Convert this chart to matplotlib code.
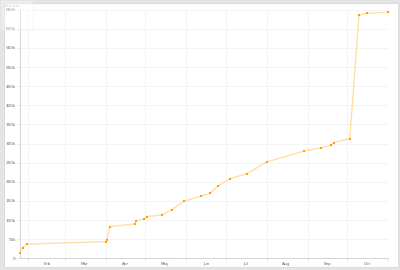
import matplotlib
matplotlib.use("Agg")
import matplotlib.pyplot as plt
import matplotlib.dates as mdates
from matplotlib.patches import Rectangle
import datetime as dt

dates = ["2015-01-26", "2015-01-28", "2015-01-31", "2015-04-01", "2015-04-02",
         "2015-04-04", "2015-04-23", "2015-04-24", "2015-04-30", "2015-05-02",
         "2015-05-14", "2015-05-21", "2015-05-30", "2015-06-12", "2015-06-19",
         "2015-06-25", "2015-07-04", "2015-07-17", "2015-08-01", "2015-08-29",
         "2015-09-11", "2015-09-19", "2015-09-21", "2015-10-03", "2015-10-10",
         "2015-10-16", "2015-11-01"]
values = [13000, 28000, 37000, 43600, 48800, 83000, 90000, 98400, 103000, 109000,
          113700, 127000, 148600, 162800, 169600, 189000, 208000, 221000, 252000,
          280000, 289000, 295600, 302700, 313000, 635000, 641000, 643000]
series_name = "Total size"

x = [dt.datetime.strptime(d, "%Y-%m-%d") for d in dates]

fig = plt.figure(figsize=(4, 2.7), dpi=100)
fig.patch.set_facecolor("#e4e4e4")
fig.patches.append(Rectangle((4/400, 1 - 267/270), 394/400, 264/270,
                             transform=fig.transFigure, facecolor="white",
                             edgecolor="#d8d8d8", linewidth=0.6, zorder=-10))

ax = fig.add_axes([20/400, 1 - 258.3/270, 368/400, (258.3 - 9.7)/270])
ax.patch.set_alpha(0)
ax.plot(x, values, color="#ffc04d", alpha=0.5, linewidth=1.0, zorder=2, clip_on=False)
ax.plot(x, values, linestyle="none", marker="s", markersize=1.9,
        color="#ffa000", markeredgewidth=0, zorder=3, label=series_name, clip_on=False)

ax.set_xlim(x[0], x[-1])
ax.set_ylim(0, 650000)

ax.xaxis.set_major_locator(mdates.MonthLocator())
ax.xaxis.set_major_formatter(plt.NullFormatter())
ax.xaxis.set_minor_locator(mdates.MonthLocator(bymonthday=16))
ax.xaxis.set_minor_formatter(mdates.DateFormatter("%b"))
ax.tick_params(axis="x", which="major", length=2, color="#dddddd", width=0.5)
ax.tick_params(axis="x", which="minor", length=0, labelsize=3, labelcolor="#666666", pad=3)

ax.set_yticks(range(0, 650001, 50000))
ax.set_yticklabels(["0"] + [f"{v//1000}k" for v in range(50000, 650001, 50000)])
ax.tick_params(axis="y", length=2, color="#dddddd", width=0.5, labelsize=3,
               labelcolor="#666666", pad=1)

ax.grid(True, which="major", color="#f2f2f2", linewidth=0.6)
for s in ["top", "right"]:
    ax.spines[s].set_visible(False)
for s in ["left", "bottom"]:
    ax.spines[s].set_color("#cccccc")
    ax.spines[s].set_linewidth(0.6)

fig.patches.append(Rectangle((0, 1 - 30/270), 33/400, 30/270, transform=fig.transFigure,
                             facecolor="white", alpha=0.35, edgecolor="#dddddd",
                             linewidth=0.5, zorder=5))
fig.text(3/400, 1 - 6/270, series_name, fontsize=2.5, color="#cccccc", va="center", zorder=6)

fig.savefig("out.png", dpi=100, facecolor=fig.get_facecolor())
